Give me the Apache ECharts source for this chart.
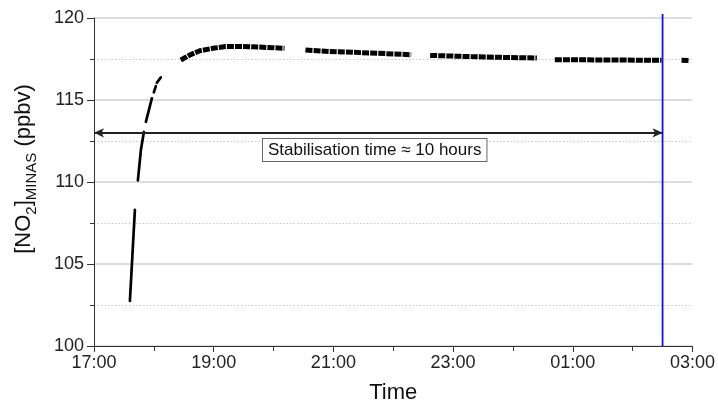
<!DOCTYPE html>
<html>
<head>
<meta charset="utf-8">
<script src="https://cdn.jsdelivr.net/npm/echarts@6/dist/echarts.min.js"></script>
<style>
  html, body { margin: 0; padding: 0; background: #fff; }
  #chart { width: 718px; height: 409px; }
</style>
</head>
<body>
<div id="chart"></div>
<script>
// Axis tick labels
const timeTicks = ['17:00', '19:00', '21:00', '23:00', '01:00', '03:00'];
const yTicks = [100, 105, 110, 115, 120];

// Fast rise of [NO2] after switch-on (null separates recorded stretches)
const riseTimes  = ['17:36', '17:41', null, '17:44', '17:47', '17:50', null, '17:52', '17:58', null, '18:00', '18:02', null, '18:03', '18:07'];
const riseValues = [102.75, 108.3, null, 110.1, 111.95, 113.05, null, 113.67, 115.1, null, 115.47, 115.85, null, 116.05, 116.38];

// Plateau readings (null separates recorded stretches)
const plateauTimes  = ['18:27', '18:36', '18:46', '18:59', '19:12', '19:29', '19:49', '20:11', null,
                       '20:32', '20:56', '21:36', '22:18', null,
                       '22:37', '23:31', '00:24', null,
                       '00:42', '01:36', '02:29', null,
                       '02:49', '02:57'];
const plateauValues = [117.44, 117.74, 118.0, 118.15, 118.26, 118.26, 118.22, 118.15, null,
                       118.05, 117.96, 117.87, 117.76, null,
                       117.72, 117.62, 117.56, null,
                       117.46, 117.44, 117.42, null,
                       117.42, 117.40];

// Stabilisation marker: start, end time and level of the arrow
const stabilisationStart = '17:00';
const stabilisationEnd = '02:30';
const stabilisationLevel = 113.0;
const stabilisationText = 'Stabilisation time \u2248 10 hours';

const FONT = '"Liberation Sans", Arial, sans-serif';

function toHours(t) {
  const [h, m] = t.split(':').map(Number);
  let v = h + m / 60 - 17;
  if (v < 0) v += 24;
  return v;
}

function splitSegments(times, values) {
  const segs = [];
  let cur = [];
  times.forEach((t, i) => {
    if (t === null) {
      if (cur.length) segs.push(cur);
      cur = [];
    } else {
      cur.push([toHours(t), values[i]]);
    }
  });
  if (cur.length) segs.push(cur);
  return segs;
}

const series = [];
splitSegments(riseTimes, riseValues).forEach(seg => {
  series.push({
    type: 'line', data: seg, showSymbol: false, silent: true, animation: false,
    lineStyle: { color: '#000', width: 2.7, cap: 'round' }
  });
});
splitSegments(plateauTimes, plateauValues).forEach(seg => {
  series.push({
    type: 'line', data: seg, showSymbol: false, silent: true, animation: false,
    lineStyle: { color: '#000', width: 5, type: [7, 1.1], cap: 'butt' }
  });
});

// Double-headed arrow spanning the stabilisation period
series.push({
  type: 'line', data: [], silent: true, animation: false,
  markLine: {
    silent: true, animation: false,
    symbol: ['arrow', 'arrow'], symbolSize: [7, 10],
    label: { show: false },
    lineStyle: { color: '#222', width: 2, type: 'solid' },
    data: [[
      { coord: [toHours(stabilisationStart), stabilisationLevel] },
      { coord: [toHours(stabilisationEnd), stabilisationLevel] }
    ]]
  }
});

const chart = echarts.init(document.getElementById('chart'), null, { renderer: 'canvas' });

chart.setOption({
  animation: false,
  backgroundColor: '#fff',
  grid: { left: 94, right: 22, top: 18, bottom: 63, containLabel: false },
  xAxis: {
    type: 'value', min: 0, max: 10, interval: 2,
    name: 'Time', nameLocation: 'middle', nameGap: 36,
    nameTextStyle: { fontFamily: FONT, fontSize: 22, color: '#111' },
    axisLine: { show: true, lineStyle: { color: '#333', width: 1 } },
    axisTick: { show: true, length: 6, lineStyle: { color: '#333' } },
    minorTick: { show: true, splitNumber: 2, length: 5, lineStyle: { color: '#333' } },
    splitLine: { show: false },
    axisLabel: {
      fontFamily: FONT, fontSize: 18, color: '#222', margin: 8,
      formatter: v => timeTicks[Math.round(v / 2)]
    }
  },
  yAxis: {
    type: 'value', min: yTicks[0], max: yTicks[yTicks.length - 1], interval: 5,
    axisLine: { show: true, lineStyle: { color: '#333', width: 1 } },
    axisTick: { show: true, length: 7, lineStyle: { color: '#333' } },
    minorTick: { show: true, splitNumber: 2, length: 4, lineStyle: { color: '#333' } },
    splitLine: { show: true, lineStyle: { color: '#d2d2d2', width: 1.6 } },
    minorSplitLine: { show: true, lineStyle: { color: '#c8c8c8', width: 1, type: [1.5, 2] } },
    axisLabel: { fontFamily: FONT, fontSize: 18, color: '#222', margin: 10 }
  },
  series: series
});

// Blue marker at the end of stabilisation, overlays and rotated axis title
const pBottom = chart.convertToPixel({ gridIndex: 0 }, [toHours(stabilisationEnd), yTicks[0]]);
const pTop = chart.convertToPixel({ gridIndex: 0 }, [toHours(stabilisationEnd), yTicks[yTicks.length - 1]]);

chart.setOption({
  graphic: [
    {
      type: 'line', silent: true, z: 10,
      shape: { x1: pBottom[0], y1: pBottom[1], x2: pTop[0], y2: pTop[1] - 4 },
      style: { stroke: '#1010ff', lineWidth: 1.8 }
    },
    {
      type: 'text', silent: true, z: 20,
      left: 262, top: 138,
      style: {
        text: stabilisationText,
        fontFamily: FONT, fontSize: 17, fill: '#111',
        backgroundColor: '#fff', borderColor: '#666', borderWidth: 1,
        padding: [3, 5, 2, 5]
      }
    },
    {
      type: 'text', silent: true, z: 20,
      x: 24, y: 169, rotation: Math.PI / 2,
      style: {
        text: '[NO{sub|2}]{sub|MINAS} (ppbv)',
        fontFamily: FONT, fontSize: 22, fill: '#111',
        lineHeight: 30,
        align: 'center', verticalAlign: 'middle',
        rich: {
          sub: { fontFamily: FONT, fontSize: 15, fill: '#111', verticalAlign: 'bottom', lineHeight: 16 }
        }
      }
    }
  ]
});
</script>
</body>
</html>
